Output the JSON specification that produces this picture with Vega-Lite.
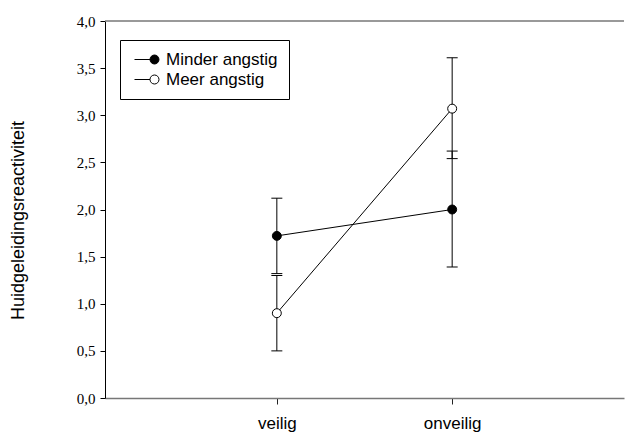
{
  "$schema": "https://vega.github.io/schema/vega-lite/v6.json",
  "width": 519,
  "height": 377,
  "autosize": {"type": "none"},
  "padding": {"left": 105, "top": 21, "right": 1, "bottom": 36},
  "background": "white",
  "config": {"view": {"stroke": null}, "axis": {"grid": false}, "legend": {"strokeWidth": 1}},
  "data": {
    "values": [
      {"group": "Minder angstig", "cond": "veilig", "mean": 1.72, "lo": 1.32, "hi": 2.12},
      {"group": "Minder angstig", "cond": "onveilig", "mean": 2.0, "lo": 1.39, "hi": 2.62},
      {"group": "Meer angstig", "cond": "veilig", "mean": 0.9, "lo": 0.5, "hi": 1.3},
      {"group": "Meer angstig", "cond": "onveilig", "mean": 3.07, "lo": 2.54, "hi": 3.61}
    ]
  },
  "layer": [
    {
      "data": {"values": [{"top": 4}]},
      "mark": {"type": "rule", "color": "#777777", "strokeWidth": 1.5},
      "encoding": {"y": {"field": "top", "type": "quantitative", "title": "Huidgeleidingsreactiviteit"}}
    },
    {
      "mark": {"type": "line", "color": "black", "strokeWidth": 1},
      "encoding": {
        "x": {
          "field": "cond", "type": "nominal", "sort": ["veilig", "onveilig"],
          "scale": {"type": "point", "padding": 0.98},
          "axis": {
            "title": null, "labelAngle": 0, "labelFont": "Liberation Sans", "labelFontSize": 17,
            "labelColor": "black", "labelPadding": 11, "tickSize": 6, "tickColor": "#222222",
            "tickWidth": 1, "domainColor": "#777777", "domainWidth": 1.5
          }
        },
        "y": {
          "field": "mean", "type": "quantitative",
          "scale": {"domain": [0, 4], "nice": false},
          "title": "Huidgeleidingsreactiviteit",
          "axis": {
            "values": [0, 0.5, 1, 1.5, 2, 2.5, 3, 3.5, 4],
            "labelExpr": "replace(format(datum.value, '.1f'), '.', ',')",
            "labelFont": "Liberation Serif", "labelFontSize": 15, "labelColor": "black", "labelPadding": 5,
            "tickColor": "black", "tickSize": 5, "tickWidth": 1, "domainColor": "black", "domainWidth": 1,
            "titleFont": "Liberation Sans", "titleFontSize": 18, "titleFontWeight": "normal", "titleColor": "black",
            "titleAngle": -90, "titleX": -87, "titleY": 199, "titleAlign": "center", "titleBaseline": "middle"
          }
        },
        "detail": {"field": "group"}
      }
    },
    {
      "mark": {"type": "rule", "color": "black", "strokeWidth": 1},
      "encoding": {
        "x": {"field": "cond", "type": "nominal", "sort": ["veilig", "onveilig"]},
        "y": {"field": "lo", "type": "quantitative", "title": "Huidgeleidingsreactiviteit"},
        "y2": {"field": "hi"}
      }
    },
    {
      "mark": {"type": "tick", "color": "black", "size": 11, "thickness": 1, "opacity": 1},
      "encoding": {
        "x": {"field": "cond", "type": "nominal", "sort": ["veilig", "onveilig"]},
        "y": {"field": "lo", "type": "quantitative", "title": "Huidgeleidingsreactiviteit"}
      }
    },
    {
      "mark": {"type": "tick", "color": "black", "size": 11, "thickness": 1, "opacity": 1},
      "encoding": {
        "x": {"field": "cond", "type": "nominal", "sort": ["veilig", "onveilig"]},
        "y": {"field": "hi", "type": "quantitative", "title": "Huidgeleidingsreactiviteit"}
      }
    },
    {
      "mark": {"type": "point", "shape": "circle", "filled": true, "size": 80, "stroke": "black", "strokeWidth": 1, "opacity": 1},
      "encoding": {
        "x": {"field": "cond", "type": "nominal", "sort": ["veilig", "onveilig"]},
        "y": {"field": "mean", "type": "quantitative", "title": "Huidgeleidingsreactiviteit"},
        "fill": {
          "field": "group", "type": "nominal",
          "scale": {"domain": ["Minder angstig", "Meer angstig"], "range": ["black", "white"]},
          "legend": {
            "title": null, "orient": "none", "legendX": 15, "legendY": 19,
            "strokeColor": "black", "fillColor": "white", "padding": 11,
            "symbolType": "M-1.11,0H2.33M2.33,0A1,1,0,1,1,4.33,0A1,1,0,1,1,2.33,0Z",
            "symbolSize": 81, "symbolStrokeColor": "black", "symbolStrokeWidth": 1, "symbolOpacity": 1,
            "labelFont": "Liberation Sans", "labelFontSize": 17, "labelColor": "black",
            "labelOffset": 18, "rowPadding": 2
          }
        }
      }
    }
  ]
}
